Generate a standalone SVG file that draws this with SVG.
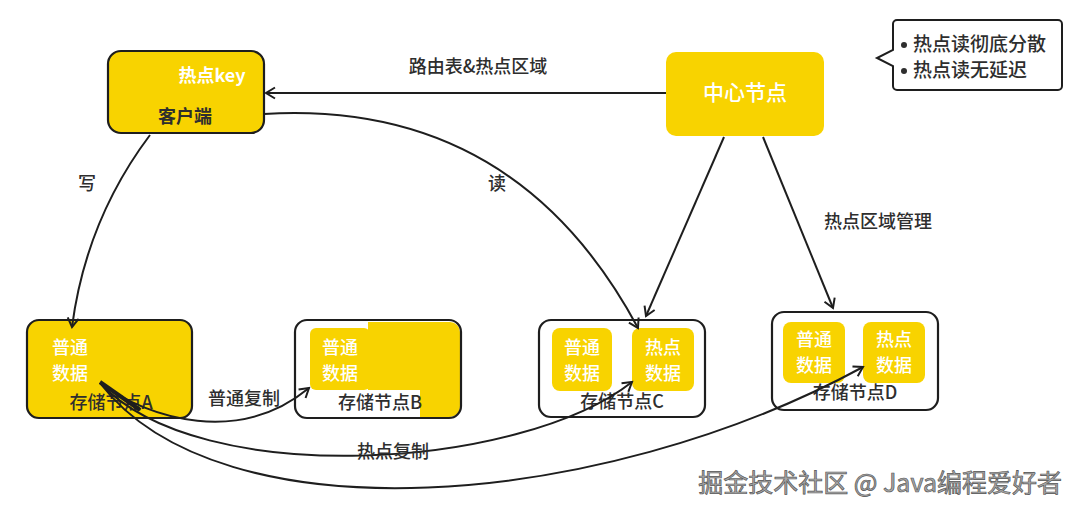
<svg xmlns="http://www.w3.org/2000/svg" width="1080" height="515" viewBox="0 0 1080 515">
<style>
.y{fill:#f8d300}
.box{stroke:#1e1e1e;stroke-width:2.2}
.t{font-family:"Noto Sans CJK SC","Noto Sans",sans-serif;font-size:18px;fill:#2e2e2e;text-anchor:middle;font-weight:500}
.w{fill:#ffffff}
.c{fill:none;stroke:#1e1e1e;stroke-width:2}
</style>
<defs>
<marker id="ah" markerWidth="14" markerHeight="14" refX="11" refY="7" orient="auto" markerUnits="userSpaceOnUse">
<path d="M2,1.5 L11,7 L2,12.5" fill="none" stroke="#1e1e1e" stroke-width="2"/>
</marker>
</defs>
<rect width="1080" height="515" fill="#ffffff"/>

<g id="client">
<rect x="108" y="51" width="156" height="82" rx="13" class="y box"/>
<text x="212" y="82" class="t w" style="font-weight:700">热点key</text>
<text x="185" y="123" class="t" style="font-weight:700">客户端</text>
</g>

<g id="center">
<rect x="666" y="52" width="158" height="84" rx="10" class="y"/>
<text x="745" y="100" class="t w" style="font-size:21px">中心节点</text>
</g>

<g id="callout">
<path d="M897,20 H1058 a4,4 0 0 1 4,4 V86 a4,4 0 0 1 -4,4 H897 a4,4 0 0 1 -4,-4 V66 L877,58 L893,50 V24 a4,4 0 0 1 4,-4 Z" fill="#ffffff" stroke="#1e1e1e" stroke-width="2"/>
<circle cx="904" cy="45" r="3" fill="#2e2e2e"/>
<circle cx="904" cy="71" r="3" fill="#2e2e2e"/>
<text x="913" y="51" class="t" style="text-anchor:start;font-size:19px">热点读彻底分散</text>
<text x="913" y="77" class="t" style="text-anchor:start;font-size:19px">热点读无延迟</text>
</g>

<g id="nodeA">
<rect x="27" y="320" width="165" height="98" rx="12" class="y box"/>
<text x="70" y="354" class="t w">普通</text>
<text x="70" y="380" class="t w">数据</text>
<text x="111" y="409" class="t">存储节点A</text>
</g>

<g id="nodeB">
<rect x="295" y="320" width="166" height="98" rx="12" fill="#ffffff"/>
<rect x="310" y="328" width="60" height="62" rx="6" class="y"/>
<path d="M368,322 H450 a10,10 0 0 1 10,10 V407 a10,10 0 0 1 -10,10 H420 V390 H368 Z" class="y"/>
<rect x="295" y="320" width="166" height="98" rx="12" fill="none" class="box"/>
<text x="340" y="354" class="t w">普通</text>
<text x="340" y="380" class="t w">数据</text>
<text x="380" y="409" class="t">存储节点B</text>
</g>

<g id="nodeC">
<rect x="539" y="320" width="166" height="97" rx="12" fill="#ffffff" class="box"/>
<rect x="552" y="328" width="60" height="63" rx="8" class="y"/>
<rect x="632" y="328" width="62" height="63" rx="8" class="y"/>
<text x="582" y="354" class="t w">普通</text>
<text x="582" y="380" class="t w">数据</text>
<text x="663" y="354" class="t w">热点</text>
<text x="663" y="380" class="t w">数据</text>
<text x="622" y="408" class="t">存储节点C</text>
</g>

<g id="nodeD">
<rect x="772" y="312" width="166" height="98" rx="12" fill="#ffffff" class="box"/>
<rect x="783" y="322" width="62" height="61" rx="8" class="y"/>
<rect x="863" y="322" width="62" height="61" rx="8" class="y"/>
<text x="814" y="346" class="t w">普通</text>
<text x="814" y="372" class="t w">数据</text>
<text x="894" y="346" class="t w">热点</text>
<text x="894" y="372" class="t w">数据</text>
<text x="855" y="399" class="t">存储节点D</text>
</g>

<g id="connectors">
<path d="M666,93 H266" class="c" marker-end="url(#ah)"/>
<path d="M150,135 Q86,220 72,327" class="c" marker-end="url(#ah)"/>
<path d="M264,114 Q515,99 638,328" class="c" marker-end="url(#ah)"/>
<path d="M724,137 L646,316" class="c" marker-end="url(#ah)"/>
<path d="M763,137 L833,308" class="c" marker-end="url(#ah)"/>
<path d="M100,383 C150,420 240,445 309,388" class="c" marker-end="url(#ah)"/>
<path d="M100,383 C200,490 520,470 632,382" class="c" marker-end="url(#ah)"/>
<path d="M100,383 C220,540 600,510 863,367" class="c" marker-end="url(#ah)"/>
<path d="M100,382 L140,410" stroke="#1e1e1e" stroke-width="4" fill="none"/>
</g>

<g id="labels">
<text x="478" y="73" class="t">路由表&amp;热点区域</text>
<text x="87" y="190" class="t">写</text>
<text x="497" y="190" class="t">读</text>
<text x="878" y="228" class="t">热点区域管理</text>
<text x="244" y="405" class="t">普通复制</text>
<text x="393" y="458" class="t">热点复制</text>
</g>

<text x="1062" y="492" style="font-family:'Noto Sans CJK SC','Liberation Sans',sans-serif;font-size:25px;fill:#a8a8a8;stroke:#555;stroke-width:0.7;text-anchor:end">掘金技术社区 @ Java编程爱好者</text>
</svg>
